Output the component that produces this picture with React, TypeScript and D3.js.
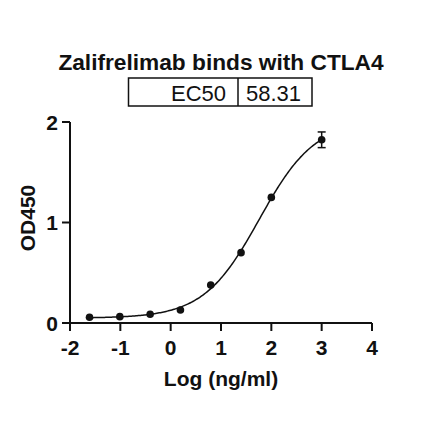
import React from "react";
import * as d3 from "d3";

const title = "Zalifrelimab binds with CTLA4";
const ec50Label = "EC50";
const ec50Value = "58.31";
const xLabel = "Log (ng/ml)";
const yLabel = "OD450";

// log10 of concentration (ng/ml)
const logConc = [-1.612, -1.010, -0.408, 0.194, 0.796, 1.398, 2.0, 3.0];
const od450 = [0.057, 0.063, 0.087, 0.13, 0.377, 0.70, 1.25, 1.823];
const od450Err = [0, 0, 0, 0, 0, 0, 0, 0.078];

const xTicks = [-2, -1, 0, 1, 2, 3, 4];
const yTicks = [0, 1, 2];

const FONT = "'Liberation Sans', Arial, Helvetica, sans-serif";

// Least-squares four-parameter logistic fit of the data above
function fit4PL(xs: number[], ys: number[]) {
  let best = { err: Infinity, B: 0, T: 1, c: 1, h: 1 };
  for (let c = 0.8; c <= 3.0; c += 0.005) {
    for (let h = 0.3; h <= 2.0; h += 0.005) {
      const f = xs.map((x) => 1 / (1 + Math.pow(10, (c - x) * h)));
      // y = B*(1-f) + T*f  -> linear least squares in B, T
      let a11 = 0, a12 = 0, a22 = 0, b1 = 0, b2 = 0;
      for (let i = 0; i < xs.length; i++) {
        const u = 1 - f[i], v = f[i];
        a11 += u * u; a12 += u * v; a22 += v * v;
        b1 += u * ys[i]; b2 += v * ys[i];
      }
      const det = a11 * a22 - a12 * a12;
      if (Math.abs(det) < 1e-12) continue;
      const B = (b1 * a22 - b2 * a12) / det;
      const T = (a11 * b2 - a12 * b1) / det;
      let err = 0;
      for (let i = 0; i < xs.length; i++) {
        const r = B + (T - B) * f[i] - ys[i];
        err += r * r;
      }
      if (err < best.err) best = { err, B, T, c, h };
    }
  }
  return best;
}

export default function App() {
  const W = 440, H = 441;
  const x = d3.scaleLinear().domain([-2, 4]).range([70, 372]);
  const y = d3.scaleLinear().domain([0, 2]).range([323, 122]);

  const pts = logConc.map((c, i) => ({ x: c, y: od450[i], e: od450Err[i] }));
  const fit = React.useMemo(() => fit4PL(logConc, od450), []);
  const [x0, x1] = d3.extent(logConc) as [number, number];
  const curvePts = d3.range(0, 201).map((k) => {
    const xv = x0 + ((x1 - x0) * k) / 200;
    return { x: xv, y: fit.B + (fit.T - fit.B) / (1 + Math.pow(10, (fit.c - xv) * fit.h)) };
  });
  const line = d3
    .line<{ x: number; y: number }>()
    .x((d) => x(d.x))
    .y((d) => y(d.y));

  const ink = "#111";
  return (
    <svg
      width={W}
      height={H}
      viewBox={`0 0 ${W} ${H}`}
      style={{ position: "absolute", left: 0, top: 0, background: "#fff" }}
      fontFamily={FONT}
    >
      <rect x={0} y={0} width={W} height={H} fill="#fff" />
      {/* Title */}
      <text x={221} y={70} textAnchor="middle" fontSize={22.7} fontWeight="bold" fill={ink}>
        {title}
      </text>
      {/* EC50 table */}
      <rect x={128.5} y={78} width={183.5} height={28} fill="none" stroke={ink} strokeWidth={1.5} />
      <line x1={238} x2={238} y1={78} y2={106} stroke={ink} strokeWidth={1.5} />
      <text x={226} y={101} textAnchor="end" fontSize={22} fill={ink}>
        {ec50Label}
      </text>
      <text x={246} y={101} textAnchor="start" fontSize={22} fill={ink}>
        {ec50Value}
      </text>

      {/* Axes */}
      <line x1={x(-2)} x2={x(-2)} y1={y(2)} y2={y(0)} stroke={ink} strokeWidth={2} />
      <line x1={x(-2)} x2={x(4)} y1={y(0)} y2={y(0)} stroke={ink} strokeWidth={2} />
      {yTicks.map((t) => (
        <g key={"y" + t}>
          <line x1={x(-2) - 8} x2={x(-2)} y1={y(t)} y2={y(t)} stroke={ink} strokeWidth={2} />
          <text x={58} y={y(t) + 7.5} textAnchor="end" fontSize={21} fontWeight="bold" fill={ink}>
            {t}
          </text>
        </g>
      ))}
      {xTicks.map((t) => (
        <g key={"x" + t}>
          <line x1={x(t)} x2={x(t)} y1={y(0)} y2={y(0) + 8} stroke={ink} strokeWidth={2} />
          <text x={x(t)} y={355} textAnchor="middle" fontSize={21} fontWeight="bold" fill={ink}>
            {t < 0 ? "-" + Math.abs(t) : String(t)}
          </text>
        </g>
      ))}
      <text x={221} y={385.5} textAnchor="middle" fontSize={21} fontWeight="bold" fill={ink}>
        {xLabel}
      </text>
      <text
        transform={`translate(35, ${218}) rotate(-90)`}
        textAnchor="middle"
        fontSize={21}
        fontWeight="bold"
        fill={ink}
      >
        {yLabel}
      </text>

      {/* Fitted curve */}
      <path d={line(curvePts) || ""} fill="none" stroke={ink} strokeWidth={1.5} />
      {/* Error bars */}
      {pts
        .filter((p) => p.e > 0)
        .map((p, i) => (
          <g key={"e" + i} stroke={ink} strokeWidth={1.5}>
            <line x1={x(p.x)} x2={x(p.x)} y1={y(p.y - p.e)} y2={y(p.y + p.e)} />
            <line x1={x(p.x) - 4} x2={x(p.x) + 4} y1={y(p.y + p.e)} y2={y(p.y + p.e)} />
            <line x1={x(p.x) - 4} x2={x(p.x) + 4} y1={y(p.y - p.e)} y2={y(p.y - p.e)} />
          </g>
        ))}
      {/* Points */}
      {pts.map((p, i) => (
        <circle key={"p" + i} cx={x(p.x)} cy={y(p.y)} r={3.8} fill={ink} />
      ))}
    </svg>
  );
}
